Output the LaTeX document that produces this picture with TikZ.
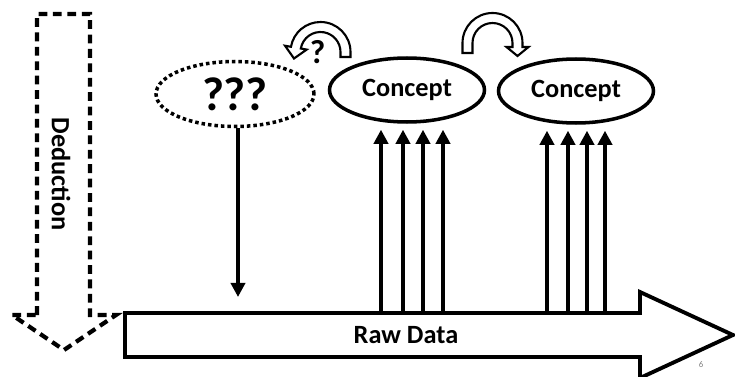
\documentclass[tikz,border=0pt]{standalone}
\usepackage{fontspec}
\setmainfont{Carlito}
\usetikzlibrary{arrows.meta,shapes.geometric}
\tikzset{
  concept/.style={draw,ellipse,line width=2pt,inner sep=0pt,minimum width=3.1cm,minimum height=1.28cm,font=\fontsize{15}{17}\selectfont\bfseries},
  dataarrow/.style={line width=2pt,-{Triangle[width=8pt,length=8pt]}},
  turnarrow/.style={draw,line width=1.2pt,fill=white},
  label/.style={font=\fontsize{15}{17}\selectfont\bfseries,inner sep=0pt}
}
\begin{document}
\begin{tikzpicture}[x=0.02cm,y=0.02cm]
\useasboundingbox (0,0) rectangle (735,376);

% deduction arrow
\draw[line width=2.4pt,dash pattern=on 5pt off 3.2pt]
(37,61) -- (37,362) -- (90,362) -- (90,61) -- (116,61) -- (64,26) -- (12,61) -- cycle;
\node[label,rotate=-90] (ded) at (61,202) {Deduction};

% raw data arrow
\draw[line width=2.2pt,fill=white]
(125,19) -- (125,63) -- (640,63) -- (640,84) -- (733,41) -- (640,-2) -- (640,19) -- cycle;
\node[label] (raw) at (406,41) {Raw Data};
\node[font=\fontsize{5}{6}\selectfont,text=gray] (page) at (701,11) {6};

% ellipses
\node[concept,dash pattern=on 2pt off 1.7pt,minimum width=3.16cm,minimum height=1.3cm,
  font=\fontsize{27}{29}\selectfont\bfseries] (unk) at (235,282) {???};
\node[concept] (c1) at (407,286) {Concept};
\node[concept] (c2) at (576,285) {Concept};

% data arrows
\foreach \x [count=\i] in {381,403,423,443} {
  \coordinate (a\i) at (\x,63);
  \draw[dataarrow,shorten >=3.4pt] (a\i) -- (a\i |- c1.south);
}
\foreach \x [count=\i] in {547,568,587,605} {
  \coordinate (b\i) at (\x,63);
  \draw[dataarrow,shorten >=3.4pt] (b\i) -- (b\i |- c2.south);
}
\coordinate (drop) at (238,79);
\draw[dataarrow] (drop |- unk.south) -- (drop);

% turning arrows
\begin{scope}[shift={(320.5,324)}]
\draw[turnarrow] (30,-5) -- (0:30) arc[start angle=0,end angle=170,radius=30]
  -- (170:36) -- (-26.5,-6.5) -- (170:14) -- (170:20)
  arc[start angle=170,end angle=0,radius=20] -- (20,-5) -- cycle;
\end{scope}
\node[font=\fontsize{19}{21}\selectfont\bfseries,inner sep=0pt] (ask) at (317.5,323.5) {?};
\begin{scope}[shift={(492.5,333)}]
\draw[turnarrow] (-30,-10) -- (180:30) arc[start angle=180,end angle=0,radius=30]
  -- (30,-4) -- (36,-4) -- (25,-13) -- (14,-4) -- (20,-4) -- (0:20)
  arc[start angle=0,end angle=180,radius=20] -- (-20,-10) -- cycle;
\end{scope}
\end{tikzpicture}
\end{document}
